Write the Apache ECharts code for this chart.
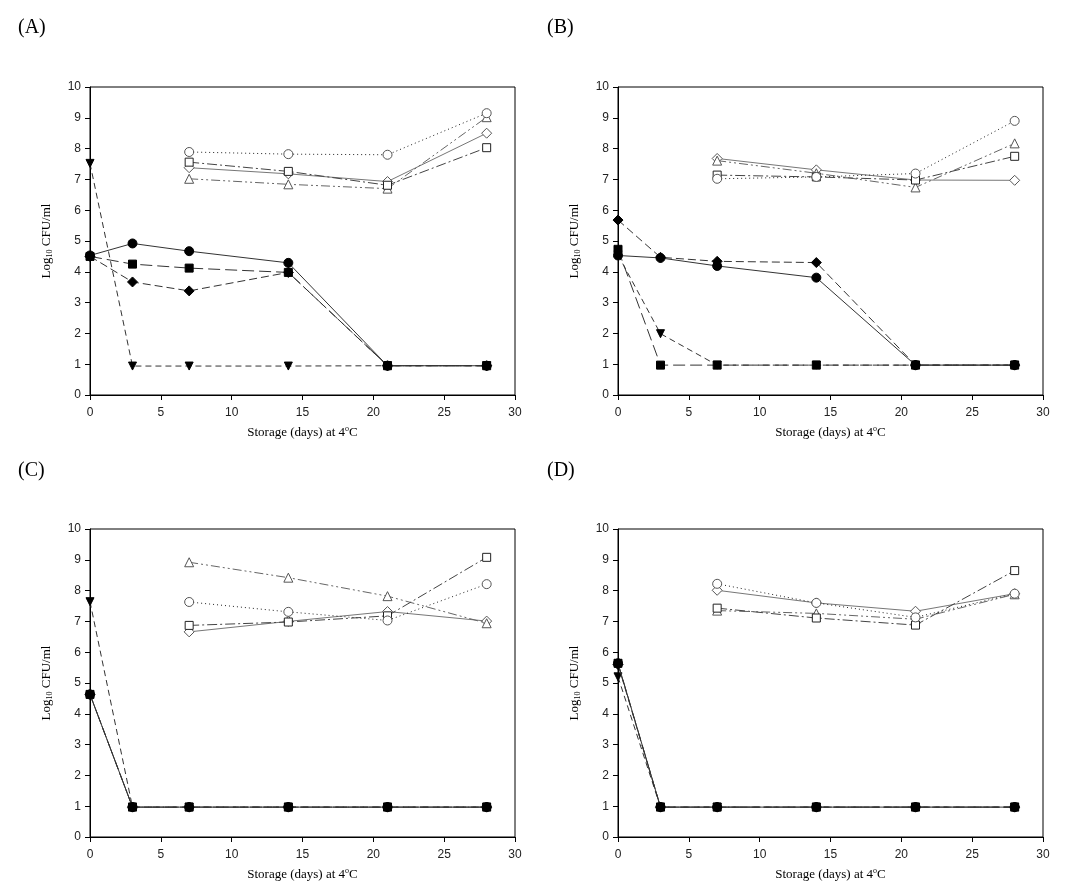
<!DOCTYPE html>
<html><head><meta charset="utf-8">
<script src="https://cdn.jsdelivr.net/npm/echarts@6/dist/echarts.min.js"></script>
<style>html,body{margin:0;padding:0;background:#fff}#c{width:1069px;height:891px}</style>
</head><body><div id="c"></div>
<script>
// ---- data ----
const daysFilled = [0, 3, 7, 14, 21, 28];
const daysOpen = [7, 14, 21, 28];
const panelLabels = ['(A)', '(B)', '(C)', '(D)'];
const xTicks = [0, 5, 10, 15, 20, 25, 30];
const yTicks = [0, 1, 2, 3, 4, 5, 6, 7, 8, 9, 10];

// Panel A
const A_fCircle  = [4.53, 4.92, 4.67, 4.29, 0.95, 0.95];
const A_fSquare  = [4.50, 4.25, 4.12, 3.98, 0.95, 0.95];
const A_fDiamond = [4.50, 3.67, 3.38, 3.98, 0.95, 0.95];
const A_fInvTri  = [7.52, 0.94, 0.94, 0.94, 0.95, 0.95];
const A_oCircle  = [7.89, 7.82, 7.80, 9.15];
const A_oSquare  = [7.56, 7.26, 6.81, 8.03];
const A_oTri     = [7.02, 6.84, 6.70, 9.02];
const A_oDiamond = [7.38, 7.18, 6.93, 8.50];
// Panel B
const B_fCircle  = [4.53, 4.45, 4.19, 3.81, 0.97, 0.97];
const B_fSquare  = [4.73, 0.97, 0.97, 0.97, 0.97, 0.97];
const B_fDiamond = [5.68, 4.47, 4.34, 4.30, 0.97, 0.97];
const B_fInvTri  = [4.55, 1.99, 0.97, 0.97, 0.97, 0.97];
const B_oCircle  = [7.02, 7.08, 7.19, 8.90];
const B_oSquare  = [7.14, 7.08, 6.98, 7.75];
const B_oTri     = [7.61, 7.20, 6.74, 8.17];
const B_oDiamond = [7.68, 7.31, 6.98, 6.97];
// Panel C
const C_fCircle  = [4.63, 0.97, 0.97, 0.97, 0.97, 0.97];
const C_fSquare  = [4.63, 0.97, 0.97, 0.97, 0.97, 0.97];
const C_fDiamond = [4.63, 0.97, 0.97, 0.97, 0.97, 0.97];
const C_fInvTri  = [7.64, 0.97, 0.97, 0.97, 0.97, 0.97];
const C_oCircle  = [7.63, 7.31, 7.03, 8.21];
const C_oSquare  = [6.87, 6.98, 7.18, 9.08];
const C_oTri     = [8.92, 8.42, 7.82, 6.94];
const C_oDiamond = [6.66, 7.00, 7.32, 7.01];
// Panel D
const D_fCircle  = [5.64, 0.97, 0.97, 0.97, 0.97, 0.97];
const D_fSquare  = [5.64, 0.97, 0.97, 0.97, 0.97, 0.97];
const D_fDiamond = [5.60, 0.97, 0.97, 0.97, 0.97, 0.97];
const D_fInvTri  = [5.20, 0.97, 0.97, 0.97, 0.97, 0.97];
const D_oCircle  = [8.22, 7.60, 7.13, 7.90];
const D_oSquare  = [7.43, 7.11, 6.88, 8.65];
const D_oTri     = [7.35, 7.26, 7.07, 7.88];
const D_oDiamond = [8.01, 7.60, 7.33, 7.90];

const panels = [
  {fC: A_fCircle, fS: A_fSquare, fD: A_fDiamond, fT: A_fInvTri, oC: A_oCircle, oS: A_oSquare, oT: A_oTri, oD: A_oDiamond},
  {fC: B_fCircle, fS: B_fSquare, fD: B_fDiamond, fT: B_fInvTri, oC: B_oCircle, oS: B_oSquare, oT: B_oTri, oD: B_oDiamond},
  {fC: C_fCircle, fS: C_fSquare, fD: C_fDiamond, fT: C_fInvTri, oC: C_oCircle, oS: C_oSquare, oT: C_oTri, oD: C_oDiamond},
  {fC: D_fCircle, fS: D_fSquare, fD: D_fDiamond, fT: D_fInvTri, oC: D_oCircle, oS: D_oSquare, oT: D_oTri, oD: D_oDiamond}
];

// ---- layout ----
const gridPos = [
  {left: 90, top: 87},
  {left: 618, top: 87},
  {left: 90, top: 529},
  {left: 618, top: 529}
];
const labelPos = [
  {left: 13, top: 13}, {left: 542, top: 13}, {left: 13, top: 456}, {left: 542, top: 456}
];

const serif = '"Liberation Serif", "DejaVu Serif", serif';
const sans = '"Liberation Sans", Arial, sans-serif';

const grids = [], xAxes = [], yAxes = [], titles = [], series = [];
const pair = (xs, ys) => xs.map((x, i) => [x, ys[i]]);

// styles of the eight series
const styles = [
  {key: 'oD', days: daysOpen, symbol: 'diamond', size: 10, fill: '#fff', stroke: '#555', line: '#777', dash: 'solid', rot: 0},
  {key: 'oT', days: daysOpen, symbol: 'triangle', size: 9, fill: '#fff', stroke: '#555', line: '#666', dash: [9, 3, 2, 3, 2, 3], rot: 0},
  {key: 'oS', days: daysOpen, symbol: 'rect', size: 8, fill: '#fff', stroke: '#222', line: '#444', dash: [10, 3, 2, 3], rot: 0},
  {key: 'oC', days: daysOpen, symbol: 'circle', size: 9, fill: '#fff', stroke: '#555', line: '#222', dash: [1, 3], rot: 0},
  {key: 'fT', days: daysFilled, symbol: 'triangle', size: 8, fill: '#000', stroke: '#000', line: '#333', dash: [6, 4], rot: 180},
  {key: 'fD', days: daysFilled, symbol: 'diamond', size: 10, fill: '#000', stroke: '#000', line: '#333', dash: [8, 4], rot: 0},
  {key: 'fS', days: daysFilled, symbol: 'rect', size: 8, fill: '#000', stroke: '#000', line: '#333', dash: [12, 5], rot: 0},
  {key: 'fC', days: daysFilled, symbol: 'circle', size: 9, fill: '#000', stroke: '#000', line: '#333', dash: 'solid', rot: 0}
];

panels.forEach((p, i) => {
  grids.push({left: gridPos[i].left, top: gridPos[i].top, width: 425, height: 308,
    show: true, borderColor: '#000', borderWidth: 1, backgroundColor: 'transparent'});
  xAxes.push({
    type: 'value', gridIndex: i, min: xTicks[0], max: xTicks[xTicks.length - 1], interval: 5,
    axisLine: {show: true, onZero: false, lineStyle: {color: '#000', width: 1}},
    axisTick: {show: true, inside: false, length: 5, lineStyle: {color: '#000'}},
    splitLine: {show: false},
    axisLabel: {color: '#222', fontFamily: sans, fontSize: 12, margin: 12},
    name: 'Storage (days) at 4{sup|o}C', nameLocation: 'middle', nameGap: 30,
    nameTextStyle: {color: '#000', fontFamily: serif, fontSize: 13,
      rich: {sup: {fontSize: 8, fontFamily: serif, color: '#000', verticalAlign: 'top', padding: [0, 0, 7, 0]}}}
  });
  yAxes.push({
    type: 'value', gridIndex: i, min: yTicks[0], max: yTicks[yTicks.length - 1], interval: 1,
    axisLine: {show: true, onZero: false, lineStyle: {color: '#000', width: 1}},
    axisTick: {show: true, inside: false, length: 5, lineStyle: {color: '#000'}},
    splitLine: {show: false},
    axisLabel: {color: '#222', fontFamily: sans, fontSize: 12, margin: 9},
    name: 'Log{sub|10} CFU/ml', nameLocation: 'middle', nameGap: 36,
    nameTextStyle: {color: '#000', fontFamily: serif, fontSize: 13,
      rich: {sub: {fontSize: 8, fontFamily: serif, color: '#000', verticalAlign: 'bottom', padding: [6, 0, 0, 0]}}}
  });
  titles.push({text: panelLabels[i], left: labelPos[i].left, top: labelPos[i].top,
    textStyle: {fontFamily: serif, fontWeight: 'normal', fontSize: 20, color: '#000'}});
  styles.forEach((s, k) => {
    series.push({
      type: 'line', xAxisIndex: i, yAxisIndex: i, z: 2 + k,
      data: pair(s.days, p[s.key]),
      symbol: s.symbol, symbolSize: s.size, symbolRotate: s.rot, showAllSymbol: true,
      itemStyle: {color: s.fill, borderColor: s.stroke, borderWidth: 1, opacity: 1},
      lineStyle: {color: s.line, width: 1, type: s.dash},
      emphasis: {disabled: true}, animation: false
    });
  });
});

const chart = echarts.init(document.getElementById('c'), null, {renderer: 'canvas'});
chart.setOption({
  backgroundColor: '#fff', animation: false,
  title: titles, grid: grids, xAxis: xAxes, yAxis: yAxes, series: series
});
</script></body></html>
